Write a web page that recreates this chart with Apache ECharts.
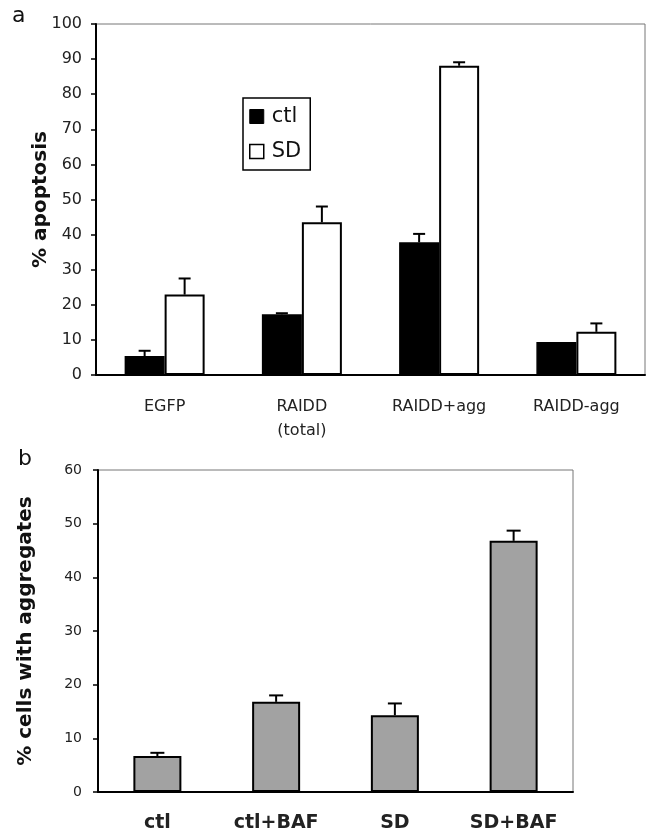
<!DOCTYPE html>
<html>
<head>
<meta charset="utf-8">
<script src="https://cdn.jsdelivr.net/npm/echarts@6/dist/echarts.min.js"></script>
<style>html,body{margin:0;padding:0;background:#fff}#c{width:650px;height:833px}</style>
</head>
<body>
<div id="c"></div>
<script>
// Panel a data
var catsA = ['EGFP', 'RAIDD\n(total)', 'RAIDD+agg', 'RAIDD-agg'];
var ctlA = [5.4, 17.3, 37.8, 9.4];
var ctlErrA = [1.5, 0.3, 2.4, 0];
var sdA = [22.9, 43.5, 88.1, 12.3];
var sdErrA = [4.6, 4.5, 1.0, 2.4];
var ticksA = [0, 10, 20, 30, 40, 50, 60, 70, 80, 90, 100];
// Panel b data
var catsB = ['ctl', 'ctl+BAF', 'SD', 'SD+BAF'];
var valsB = [6.7, 16.8, 14.3, 46.8];
var errB = [0.6, 1.2, 2.2, 1.9];
var ticksB = [0, 10, 20, 30, 40, 50, 60];

var FONT = 'DejaVu Sans';

function errRender(offset, cap) {
  return function (params, api) {
    var x = api.value(0), v = api.value(1), e = api.value(2);
    if (!e) return null;
    var p0 = api.coord([x, v]);
    var p1 = api.coord([x, v + e]);
    var cx = p0[0] + offset;
    return {
      type: 'group',
      children: [
        {type: 'line', shape: {x1: cx, y1: p0[1], x2: cx, y2: p1[1]}, style: {stroke: '#000', lineWidth: 2}},
        {type: 'line', shape: {x1: cx - cap / 2, y1: p1[1], x2: cx + cap / 2, y2: p1[1]}, style: {stroke: '#000', lineWidth: 2}}
      ]
    };
  };
}
function triples(vals, errs) {
  return vals.map(function (v, i) { return [i, v, errs[i]]; });
}

var chart = echarts.init(document.getElementById('c'), null, {renderer: 'canvas'});
chart.setOption({
  animation: false,
  backgroundColor: '#fff',
  textStyle: {fontFamily: FONT},
  graphic: [
    {type: 'text', left: 12, top: 5, style: {text: 'a', font: '22px DejaVu Sans', fill: '#111'}},
    {type: 'text', left: 18, top: 448, style: {text: 'b', font: '22px DejaVu Sans', fill: '#111'}}
  ],
  legend: {
    left: 243, top: 98,
    orient: 'vertical',
    data: [
      {name: 'ctl', icon: 'rect', itemStyle: {color: '#000', borderColor: '#000', borderWidth: 1}},
      {name: 'SD', icon: 'rect', itemStyle: {color: '#fff', borderColor: '#000', borderWidth: 1.5}}
    ],
    itemWidth: 14, itemHeight: 14, itemGap: 14,
    padding: [8, 9, 8, 6],
    borderColor: '#000', borderWidth: 1.5,
    textStyle: {fontFamily: FONT, fontSize: 21, color: '#111', lineHeight: 21, padding: [0, 0, 0, 3]}
  },
  grid: [
    {left: 96, right: 5, top: 24, bottom: 458, show: true, borderColor: '#777', borderWidth: 1},
    {left: 98, right: 77, top: 470, bottom: 41, show: true, borderColor: '#777', borderWidth: 1}
  ],
  xAxis: [
    {type: 'category', gridIndex: 0, data: catsA,
     axisLine: {lineStyle: {color: '#000', width: 2}},
     axisTick: {length: 7, lineStyle: {color: '#000', width: 1.5}},
     axisLabel: {fontFamily: FONT, fontSize: 16, color: '#222', margin: 20, lineHeight: 24, interval: 0}},
    {type: 'category', gridIndex: 1, data: catsB,
     axisLine: {lineStyle: {color: '#000', width: 2}},
     axisTick: {length: 7, lineStyle: {color: '#000', width: 1.5}},
     axisLabel: {fontFamily: FONT, fontSize: 19, fontWeight: 'bold', color: '#222', margin: 22, interval: 0}}
  ],
  yAxis: [
    {type: 'value', gridIndex: 0, min: ticksA[0], max: ticksA[ticksA.length - 1], interval: 10,
     name: '% apoptosis', nameLocation: 'middle', nameGap: 45, nameMoveOverlap: false,
     nameTextStyle: {fontFamily: FONT, fontSize: 20, fontWeight: 'bold', color: '#111'},
     splitLine: {show: false},
     axisLine: {show: true, lineStyle: {color: '#000', width: 2}},
     axisTick: {show: true, length: 5, lineStyle: {color: '#000', width: 1.5}},
     axisLabel: {fontFamily: FONT, fontSize: 16, color: '#222', margin: 14}},
    {type: 'value', gridIndex: 1, min: ticksB[0], max: ticksB[ticksB.length - 1], interval: 10,
     name: '% cells with aggregates', nameLocation: 'middle', nameGap: 62, nameMoveOverlap: false,
     nameTextStyle: {fontFamily: FONT, fontSize: 20, fontWeight: 'bold', color: '#111'},
     splitLine: {show: false},
     axisLine: {show: true, lineStyle: {color: '#000', width: 2}},
     axisTick: {show: true, length: 5, lineStyle: {color: '#000', width: 1.5}},
     axisLabel: {fontFamily: FONT, fontSize: 14, color: '#222', margin: 16}}
  ],
  series: [
    {name: 'ctl', type: 'bar', xAxisIndex: 0, yAxisIndex: 0, data: ctlA, barWidth: 40, barGap: '0%',
     itemStyle: {color: '#000', borderColor: '#000', borderWidth: 1.5}},
    {name: 'SD', type: 'bar', xAxisIndex: 0, yAxisIndex: 0, data: sdA, barWidth: 40, barGap: '0%',
     itemStyle: {color: '#fff', borderColor: '#000', borderWidth: 2}},
    {name: 'ctlErr', type: 'custom', xAxisIndex: 0, yAxisIndex: 0, data: triples(ctlA, ctlErrA),
     encode: {x: 0, y: 1}, renderItem: errRender(-20, 12), z: 5, silent: true},
    {name: 'sdErr', type: 'custom', xAxisIndex: 0, yAxisIndex: 0, data: triples(sdA, sdErrA),
     encode: {x: 0, y: 1}, renderItem: errRender(20, 12), z: 5, silent: true},
    {name: 'agg', type: 'bar', xAxisIndex: 1, yAxisIndex: 1, data: valsB, barWidth: 48,
     itemStyle: {color: '#a2a2a2', borderColor: '#000', borderWidth: 2}},
    {name: 'aggErr', type: 'custom', xAxisIndex: 1, yAxisIndex: 1, data: triples(valsB, errB),
     encode: {x: 0, y: 1}, renderItem: errRender(0, 14), z: 5, silent: true}
  ]
});
</script>
</body>
</html>
